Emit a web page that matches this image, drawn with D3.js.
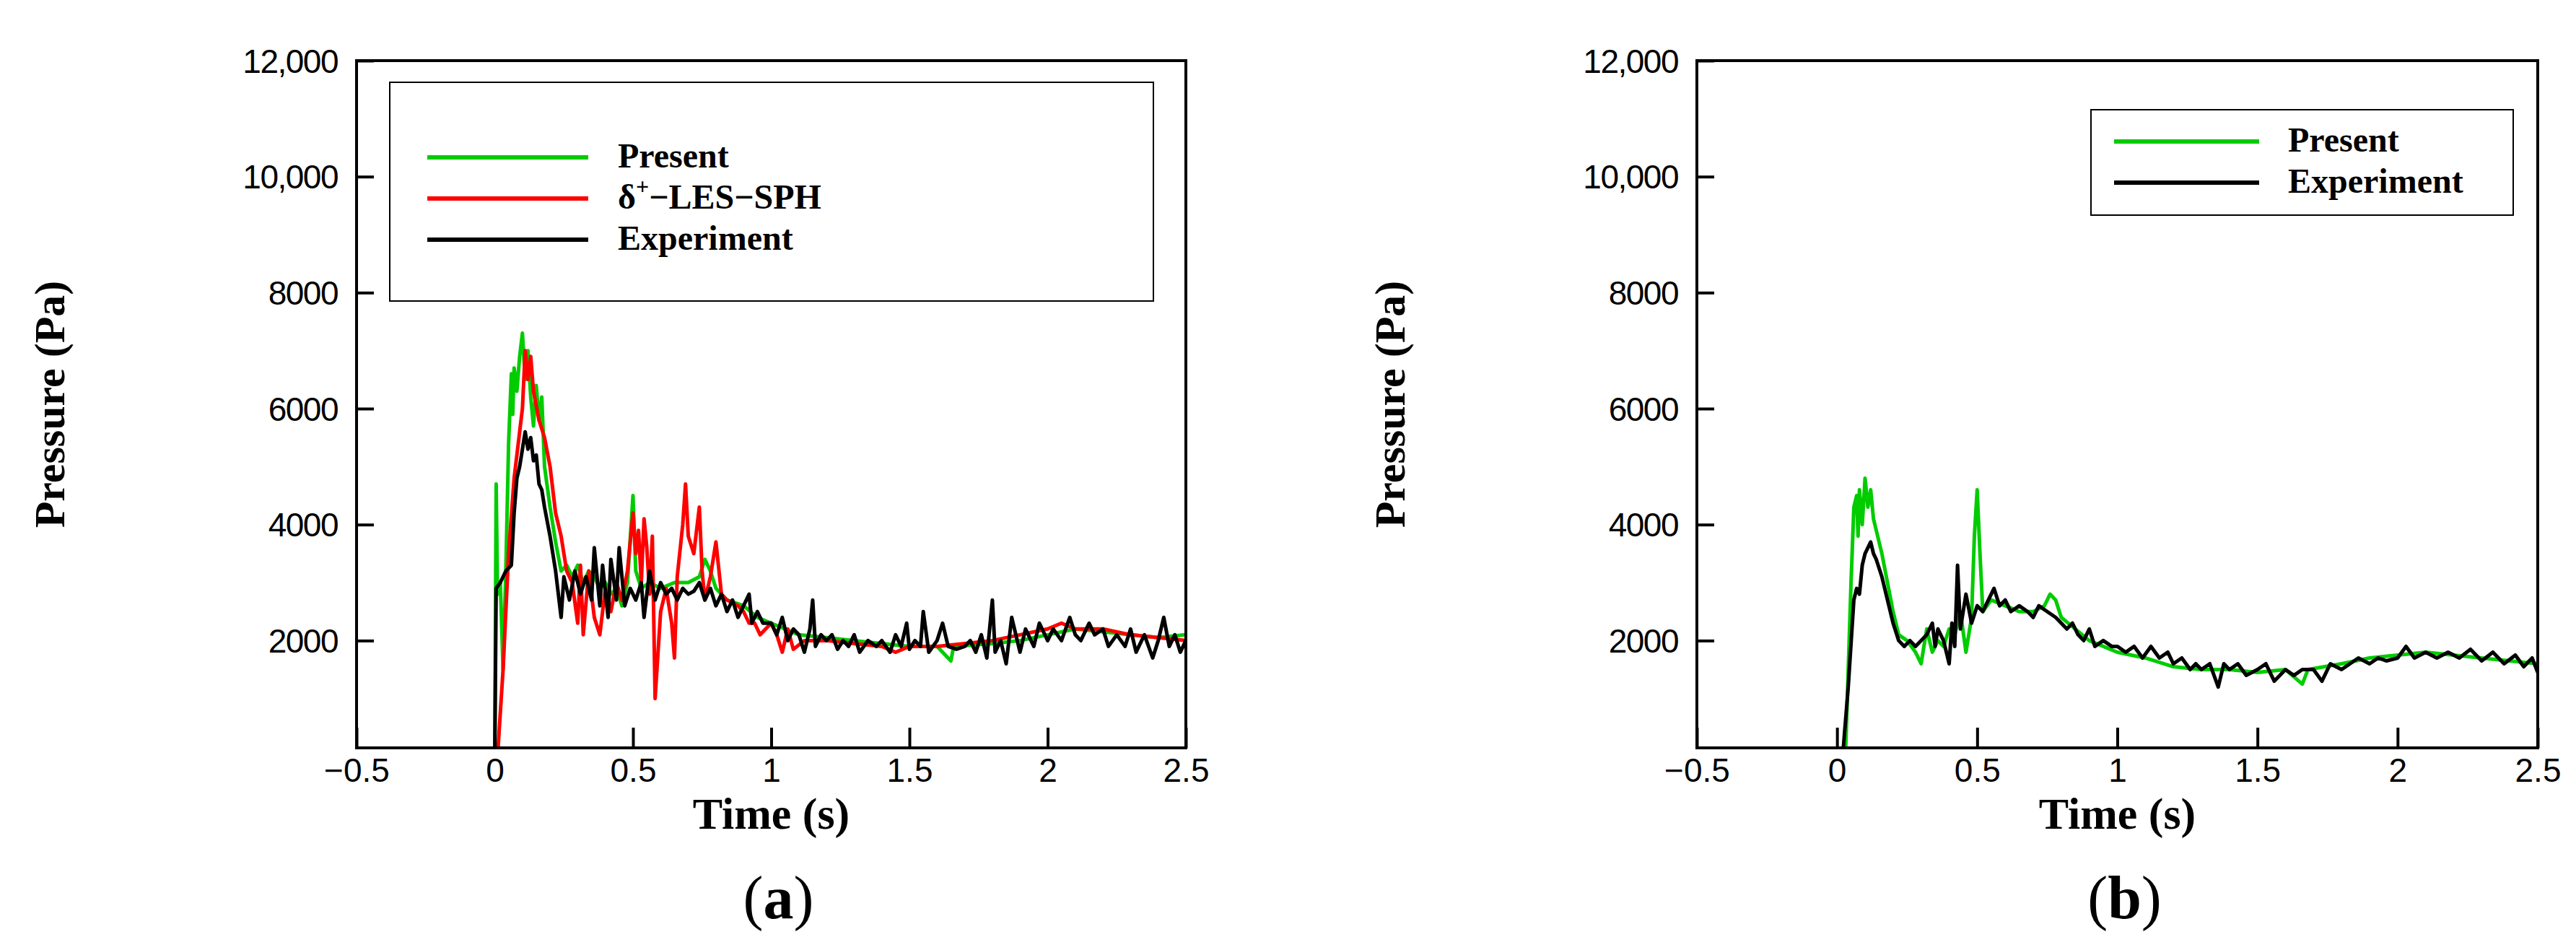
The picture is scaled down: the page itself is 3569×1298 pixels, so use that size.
<!DOCTYPE html>
<html><head><meta charset="utf-8">
<script src="https://cdn.jsdelivr.net/npm/d3@7"></script>
<style>body{margin:0;background:#fff}</style></head>
<body><svg id="c" width="3569" height="1298"></svg>
<script>
const xTicks=[-0.5,0,0.5,1,1.5,2,2.5];
const xTickLabels=["\u22120.5","0","0.5","1","1.5","2","2.5"];
const yTicks=[2000,4000,6000,8000,10000,12000];
const yTickLabels=["2000","4000","6000","8000","10,000","12,000"];

const expA=[[0,0],[0.005,2900],[0.02,3000],[0.04,3200],[0.06,3300],[0.07,4200],[0.08,4800],[0.09,5000],[0.1,5300],[0.11,5600],[0.12,5300],[0.13,5500],[0.14,5100],[0.15,5200],[0.16,4700],[0.17,4600],[0.18,4300],[0.2,3800],[0.22,3200],[0.24,2400],[0.25,3100],[0.27,2700],[0.29,3200],[0.31,2800],[0.33,3100],[0.35,2700],[0.36,3600],[0.38,2600],[0.39,3300],[0.41,2400],[0.42,3400],[0.44,2700],[0.45,3600],[0.47,2600],[0.49,2900],[0.51,2700],[0.53,3000],[0.54,2400],[0.56,3200],[0.58,2700],[0.6,3000],[0.62,2800],[0.64,2900],[0.66,2700],[0.68,2900],[0.7,2800],[0.72,2850],[0.74,3000],[0.76,2700],[0.78,2900],[0.8,2600],[0.82,2800],[0.84,2500],[0.86,2700],[0.88,2400],[0.9,2600],[0.92,2800],[0.93,2300],[0.95,2500],[0.97,2300],[1.0,2300],[1.02,2100],[1.04,2400],[1.06,2000],[1.08,2200],[1.1,2100],[1.12,1800],[1.14,2200],[1.15,2700],[1.16,1900],[1.18,2100],[1.2,2000],[1.22,2100],[1.24,1850],[1.26,2000],[1.28,1900],[1.3,2100],[1.32,1800],[1.35,2000],[1.38,1900],[1.4,2000],[1.43,1800],[1.45,2100],[1.47,1900],[1.49,2300],[1.5,1850],[1.52,2000],[1.54,1900],[1.55,2500],[1.57,1800],[1.6,2000],[1.62,2300],[1.64,1900],[1.67,1850],[1.7,1900],[1.72,2000],[1.74,1800],[1.76,2100],[1.78,1700],[1.8,2700],[1.81,1800],[1.83,2000],[1.85,1600],[1.87,2400],[1.9,1800],[1.92,2200],[1.95,1900],[1.97,2300],[2.0,2000],[2.02,2200],[2.05,2000],[2.08,2400],[2.1,2100],[2.12,2000],[2.15,2300],[2.17,2100],[2.2,2200],[2.22,1900],[2.25,2100],[2.28,1900],[2.3,2200],[2.32,1800],[2.35,2100],[2.38,1700],[2.4,2000],[2.42,2400],[2.44,1900],[2.46,2100],[2.48,1800],[2.5,2000]];
const presentA=[[0,0],[0.005,4700],[0.01,2800],[0.02,3000],[0.03,1500],[0.04,3200],[0.05,5400],[0.06,6600],[0.065,5900],[0.07,6700],[0.08,6300],[0.09,6900],[0.1,7300],[0.11,6500],[0.12,7000],[0.13,6200],[0.14,5700],[0.15,6400],[0.16,5800],[0.17,6200],[0.18,5000],[0.2,4300],[0.22,3700],[0.24,3200],[0.26,3300],[0.28,3100],[0.3,3300],[0.32,3000],[0.34,3200],[0.36,3100],[0.38,2900],[0.4,3000],[0.42,2800],[0.44,2900],[0.46,2600],[0.48,3000],[0.5,4500],[0.51,3200],[0.53,2900],[0.56,3000],[0.6,2900],[0.65,3000],[0.7,3000],[0.74,3100],[0.76,3400],[0.78,3200],[0.8,2900],[0.84,2700],[0.9,2600],[0.95,2400],[1.0,2300],[1.05,2200],[1.1,2100],[1.2,2050],[1.3,2000],[1.4,1950],[1.5,1900],[1.6,1900],[1.65,1650],[1.66,1900],[1.8,1950],[1.9,2000],[2.0,2100],[2.1,2200],[2.2,2150],[2.3,2100],[2.4,2050],[2.5,2100]];
const lesA=[[0.01,0],[0.03,1500],[0.05,3500],[0.07,4800],[0.09,5600],[0.1,6000],[0.11,7000],[0.12,6500],[0.13,6900],[0.14,6300],[0.16,5800],[0.18,5500],[0.2,5000],[0.22,4200],[0.24,3800],[0.26,3200],[0.28,3000],[0.3,2300],[0.31,3300],[0.32,2100],[0.34,3200],[0.36,2400],[0.38,2100],[0.4,2900],[0.42,2500],[0.44,3000],[0.46,2700],[0.48,3200],[0.5,4200],[0.51,3500],[0.52,3900],[0.53,3000],[0.54,4100],[0.55,3600],[0.56,2800],[0.57,3800],[0.58,1000],[0.6,2500],[0.62,2900],[0.64,2300],[0.65,1700],[0.66,3100],[0.68,4000],[0.69,4700],[0.7,3800],[0.72,3500],[0.74,4300],[0.75,3200],[0.76,2700],[0.78,3100],[0.8,3700],[0.82,2800],[0.84,2700],[0.88,2600],[0.9,2500],[0.92,2300],[0.94,2300],[0.96,2100],[1.0,2300],[1.02,2100],[1.04,1800],[1.06,2200],[1.08,1850],[1.12,2000],[1.2,2000],[1.3,1950],[1.4,1900],[1.45,1800],[1.5,1900],[1.6,1900],[1.7,1950],[1.8,2000],[1.9,2100],[2.0,2200],[2.05,2300],[2.1,2200],[2.2,2200],[2.3,2100],[2.4,2050],[2.5,2000]];
const presentB=[[0.03,0],[0.04,1500],[0.05,3000],[0.06,4300],[0.07,4500],[0.075,3800],[0.08,4600],[0.09,4000],[0.1,4800],[0.11,4300],[0.12,4600],[0.13,4100],[0.14,3900],[0.16,3500],[0.18,3000],[0.2,2500],[0.22,2100],[0.25,2000],[0.28,1800],[0.3,1600],[0.32,2200],[0.34,1800],[0.36,2000],[0.38,1900],[0.4,2200],[0.42,2100],[0.44,2500],[0.46,1800],[0.48,2400],[0.49,3800],[0.5,4600],[0.51,3500],[0.52,2500],[0.55,2700],[0.6,2600],[0.65,2500],[0.7,2500],[0.74,2600],[0.76,2800],[0.78,2700],[0.8,2400],[0.85,2200],[0.9,2000],[0.95,1900],[1.0,1800],[1.1,1700],[1.2,1550],[1.3,1500],[1.4,1500],[1.5,1450],[1.6,1500],[1.66,1250],[1.68,1500],[1.8,1600],[1.9,1700],[2.0,1750],[2.1,1800],[2.2,1750],[2.3,1700],[2.4,1650],[2.5,1600]];
const expB=[[0.02,0],[0.04,1200],[0.06,2700],[0.07,2900],[0.08,2800],[0.09,3300],[0.1,3500],[0.11,3600],[0.12,3700],[0.13,3500],[0.14,3400],[0.16,3100],[0.18,2700],[0.2,2300],[0.22,2000],[0.24,1900],[0.26,2000],[0.28,1900],[0.3,2000],[0.32,2100],[0.34,2300],[0.35,1900],[0.36,2200],[0.38,2000],[0.4,1600],[0.41,2300],[0.42,1900],[0.43,3300],[0.44,2200],[0.46,2800],[0.48,2300],[0.5,2600],[0.52,2500],[0.54,2700],[0.56,2900],[0.58,2600],[0.6,2700],[0.62,2500],[0.65,2600],[0.68,2500],[0.7,2400],[0.72,2600],[0.75,2500],[0.78,2400],[0.8,2300],[0.82,2200],[0.84,2300],[0.86,2100],[0.88,2000],[0.9,2200],[0.92,1900],[0.95,2000],[0.98,1900],[1.0,1900],[1.03,1800],[1.06,1900],[1.09,1700],[1.12,1900],[1.15,1700],[1.18,1800],[1.2,1600],[1.23,1700],[1.26,1500],[1.28,1600],[1.3,1500],[1.33,1600],[1.36,1200],[1.38,1600],[1.4,1500],[1.43,1600],[1.46,1400],[1.5,1500],[1.53,1600],[1.56,1300],[1.6,1500],[1.63,1400],[1.66,1500],[1.7,1500],[1.73,1300],[1.76,1600],[1.8,1500],[1.83,1600],[1.86,1700],[1.9,1600],[1.93,1700],[1.96,1650],[2.0,1700],[2.03,1900],[2.06,1700],[2.1,1800],[2.14,1700],[2.18,1800],[2.22,1700],[2.26,1850],[2.3,1650],[2.34,1800],[2.38,1600],[2.42,1750],[2.45,1550],[2.48,1700],[2.5,1450]];

const svg=d3.select("#c");
const plotTop=84,plotBottom=1036;
function panel(left,right,series,legend,leg,caption){
  const x=d3.scaleLinear().domain([-0.5,2.5]).range([left,right]);
  const y=d3.scaleLinear().domain([150,12000]).range([plotBottom,plotTop]);
  const g=svg.append("g");
  const clipId="clip"+caption;
  g.append("clipPath").attr("id",clipId).append("rect").attr("x",left).attr("y",plotTop).attr("width",right-left).attr("height",plotBottom-plotTop);
  const line=d3.line().x(d=>x(d[0])).y(d=>y(d[1]));
  series.forEach(s=>g.append("path").attr("d",line(s.data)).attr("fill","none").attr("stroke",s.color).attr("stroke-width",5).attr("stroke-linejoin","round").attr("clip-path",`url(#${clipId})`));
  g.append("rect").attr("x",left).attr("y",plotTop).attr("width",right-left).attr("height",plotBottom-plotTop).attr("fill","none").attr("stroke","#000").attr("stroke-width",4);
  const xa=g.append("g").attr("transform",`translate(0,${plotBottom})`).call(d3.axisBottom(x).tickValues(xTicks).tickSize(-28).tickFormat((d,i)=>xTickLabels[i]));
  xa.select(".domain").remove();
  xa.selectAll("line").attr("stroke-width",4);
  xa.selectAll("text").attr("font-family","Liberation Sans, Arial").attr("font-size",46).attr("dy","0.95em");
  const ya=g.append("g").attr("transform",`translate(${left},0)`).call(d3.axisLeft(y).tickValues(yTicks).tickSize(-24).tickFormat((d,i)=>yTickLabels[i]));
  ya.select(".domain").remove();
  ya.selectAll("line").attr("stroke-width",4);
  ya.selectAll("text").attr("font-family","Liberation Sans, Arial").attr("font-size",46).attr("x",-26).attr("dy","0.35em").attr("letter-spacing",-1.5);
  g.append("text").attr("x",(left+right)/2).attr("y",plotBottom+112).attr("text-anchor","middle").attr("font-family","Liberation Serif, Times New Roman").attr("font-weight","bold").attr("font-size",62).text("Time (s)");
  g.append("text").attr("transform",`translate(${left-405},560) rotate(-90)`).attr("text-anchor","middle").attr("font-family","Liberation Serif, Times New Roman").attr("font-weight","bold").attr("font-size",60).text("Pressure (Pa)");
  g.append("rect").attr("x",leg.x).attr("y",leg.y).attr("width",leg.w).attr("height",leg.h).attr("fill","#fff").attr("stroke","#000").attr("stroke-width",2);
  legend.forEach((l,i)=>{
    const ly=leg.y+leg.y0+i*leg.dy;
    g.append("line").attr("x1",leg.x+leg.lx).attr("x2",leg.x+leg.lx+leg.lw).attr("y1",ly).attr("y2",ly).attr("stroke",l.color).attr("stroke-width",6);
    const t=g.append("text").attr("x",leg.x+leg.tx).attr("y",ly+14).attr("font-family","Liberation Serif, Times New Roman").attr("font-weight","bold").attr("font-size",48);
    if(l.sup){t.append("tspan").text("\u03b4");t.append("tspan").attr("font-size",32).attr("dy",-20).text("+");t.append("tspan").attr("dy",20).text("\u2212LES\u2212SPH");}
    else t.text(l.name);
  });
  const c=svg.append("text").attr("x",(left+right)/2+10).attr("y",1272).attr("text-anchor","middle").attr("font-family","Liberation Serif, Times New Roman").attr("font-size",84);
  c.append("tspan").text("(");c.append("tspan").attr("font-weight","bold").text(caption);c.append("tspan").text(")");
}
panel(494,1643,[{data:presentA,color:"#00cc00"},{data:lesA,color:"#ff0000"},{data:expA,color:"#000"}],
  [{name:"Present",color:"#00cc00"},{sup:true,color:"#ff0000"},{name:"Experiment",color:"#000"}],
  {x:540,y:114,w:1058,h:303,y0:104,dy:57,lx:52,lw:223,tx:316},"a");
panel(2351,3516,[{data:presentB,color:"#00cc00"},{data:expB,color:"#000"}],
  [{name:"Present",color:"#00cc00"},{name:"Experiment",color:"#000"}],
  {x:2897,y:152,w:585,h:146,y0:44,dy:57,lx:32,lw:201,tx:273},"b");
</script></body></html>
